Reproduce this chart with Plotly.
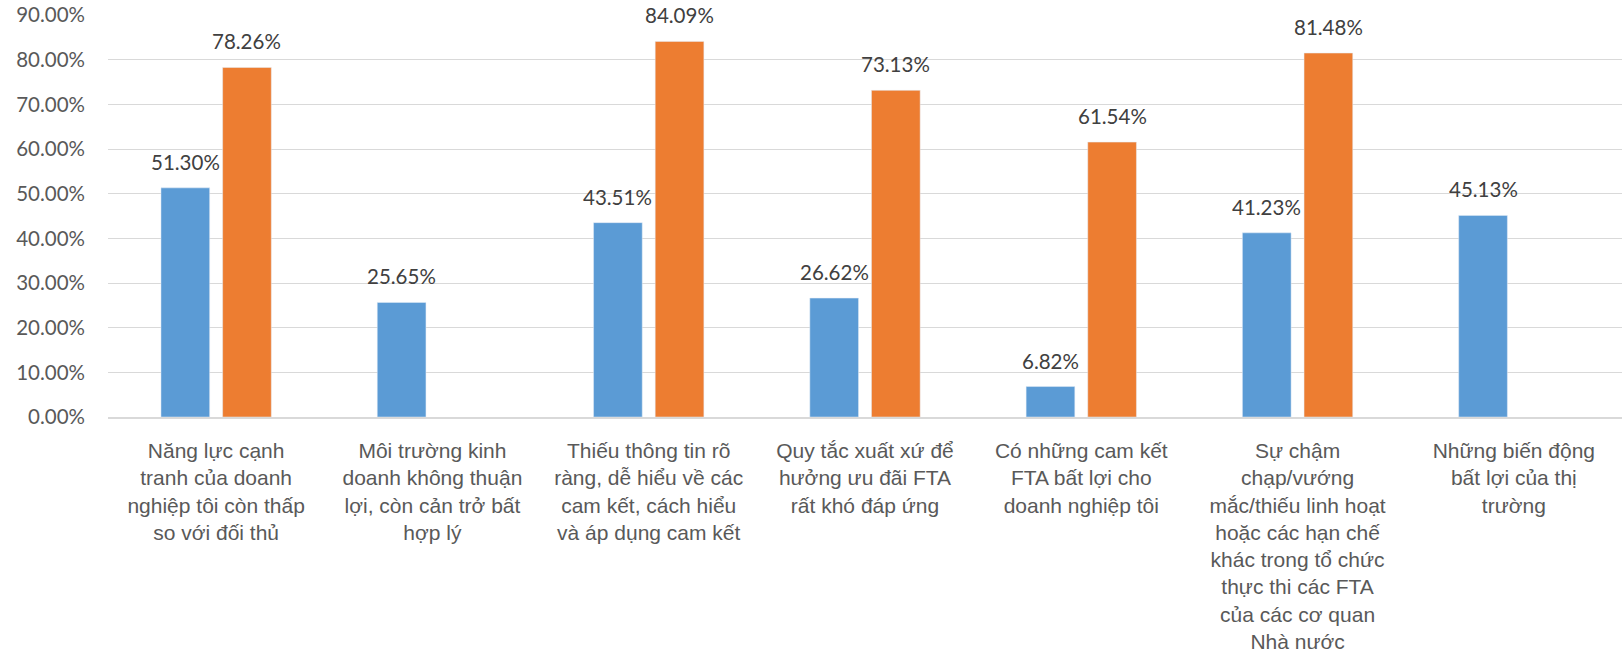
import plotly.graph_objects as go

# Survey categories (wrapped for the axis)
categories = [
    "Năng lực cạnh<br>tranh của doanh<br>nghiệp tôi còn thấp<br>so với đối thủ",
    "Môi trường kinh<br>doanh không thuận<br>lợi, còn cản trở bất<br>hợp lý",
    "Thiếu thông tin rõ<br>ràng, dễ hiểu về các<br>cam kết, cách hiểu<br>và áp dụng cam kết",
    "Quy tắc xuất xứ để<br>hưởng ưu đãi FTA<br>rất khó đáp ứng",
    "Có những cam kết<br>FTA bất lợi cho<br>doanh nghiệp tôi",
    "Sự chậm<br>chạp/vướng<br>mắc/thiếu linh hoạt<br>hoặc các hạn chế<br>khác trong tổ chức<br>thực thi các FTA<br>của các cơ quan<br>Nhà nước",
    "Những biến động<br>bất lợi của thị<br>trường",
]

# Shares of respondents (fractions)
series_blue = [0.5130, 0.2565, 0.4351, 0.2662, 0.0682, 0.4123, 0.4513]
series_orange = [0.7826, None, 0.8409, 0.7313, 0.6154, 0.8148, None]

y_tick_values = [0.0, 0.1, 0.2, 0.3, 0.4, 0.5, 0.6, 0.7, 0.8, 0.9]

BLUE = "#5B9BD5"
ORANGE = "#ED7D31"

W, H = 1624, 652
M_L, M_R, M_T, M_B = 108, 2, 15, 235
BARGAP = 0.43

fig = go.Figure()
fig.add_trace(go.Bar(x=categories, y=series_blue, marker_color=BLUE,
                     name="Series 1", hoverinfo="y"))
fig.add_trace(go.Bar(x=categories, y=series_orange, marker_color=ORANGE,
                     name="Series 2", hoverinfo="y"))

# Pixel offset of each bar from its category centre
cat_px = (W - M_L - M_R) / len(categories)
slot_px = cat_px * (1 - BARGAP) / 2
offsets = [-slot_px / 2, slot_px / 2]

label_font = dict(family="Lato, Calibri, Carlito, sans-serif", size=20.5, color="#404040")
annotations = []
for values, dx in zip([series_blue, series_orange], offsets):
    for cat, v in zip(categories, values):
        if v is None:
            continue
        annotations.append(dict(
            x=cat, y=v, xref="x", yref="y", text=f"{v * 100:.2f}%",
            showarrow=False, xshift=dx, yshift=26, yanchor="middle",
            font=label_font,
        ))

fig.update_layout(
    width=W, height=H,
    margin=dict(l=M_L, r=M_R, t=M_T, b=M_B, pad=0),
    paper_bgcolor="white", plot_bgcolor="white",
    barmode="group", bargap=BARGAP, bargroupgap=0.21,
    showlegend=False,
    annotations=annotations,
)
fig.update_xaxes(
    type="category", automargin=False,
    showline=True, linecolor="#D9D9D9", linewidth=1.5,
    showgrid=False, ticks="",
    ticklabelstandoff=14,
    tickfont=dict(family="Liberation Sans, Arial, sans-serif", size=21, color="#595959"),
)
fig.update_yaxes(
    range=[0, 0.9], tickvals=y_tick_values, tickformat=".2%",
    showgrid=True, gridcolor="#D9D9D9", gridwidth=1.2,
    zeroline=False, showline=False, ticks="", automargin=False,
    ticklabelstandoff=22,
    tickfont=dict(family="Lato, Calibri, Carlito, sans-serif", size=20.5, color="#595959"),
)

fig.write_html("out.html")
